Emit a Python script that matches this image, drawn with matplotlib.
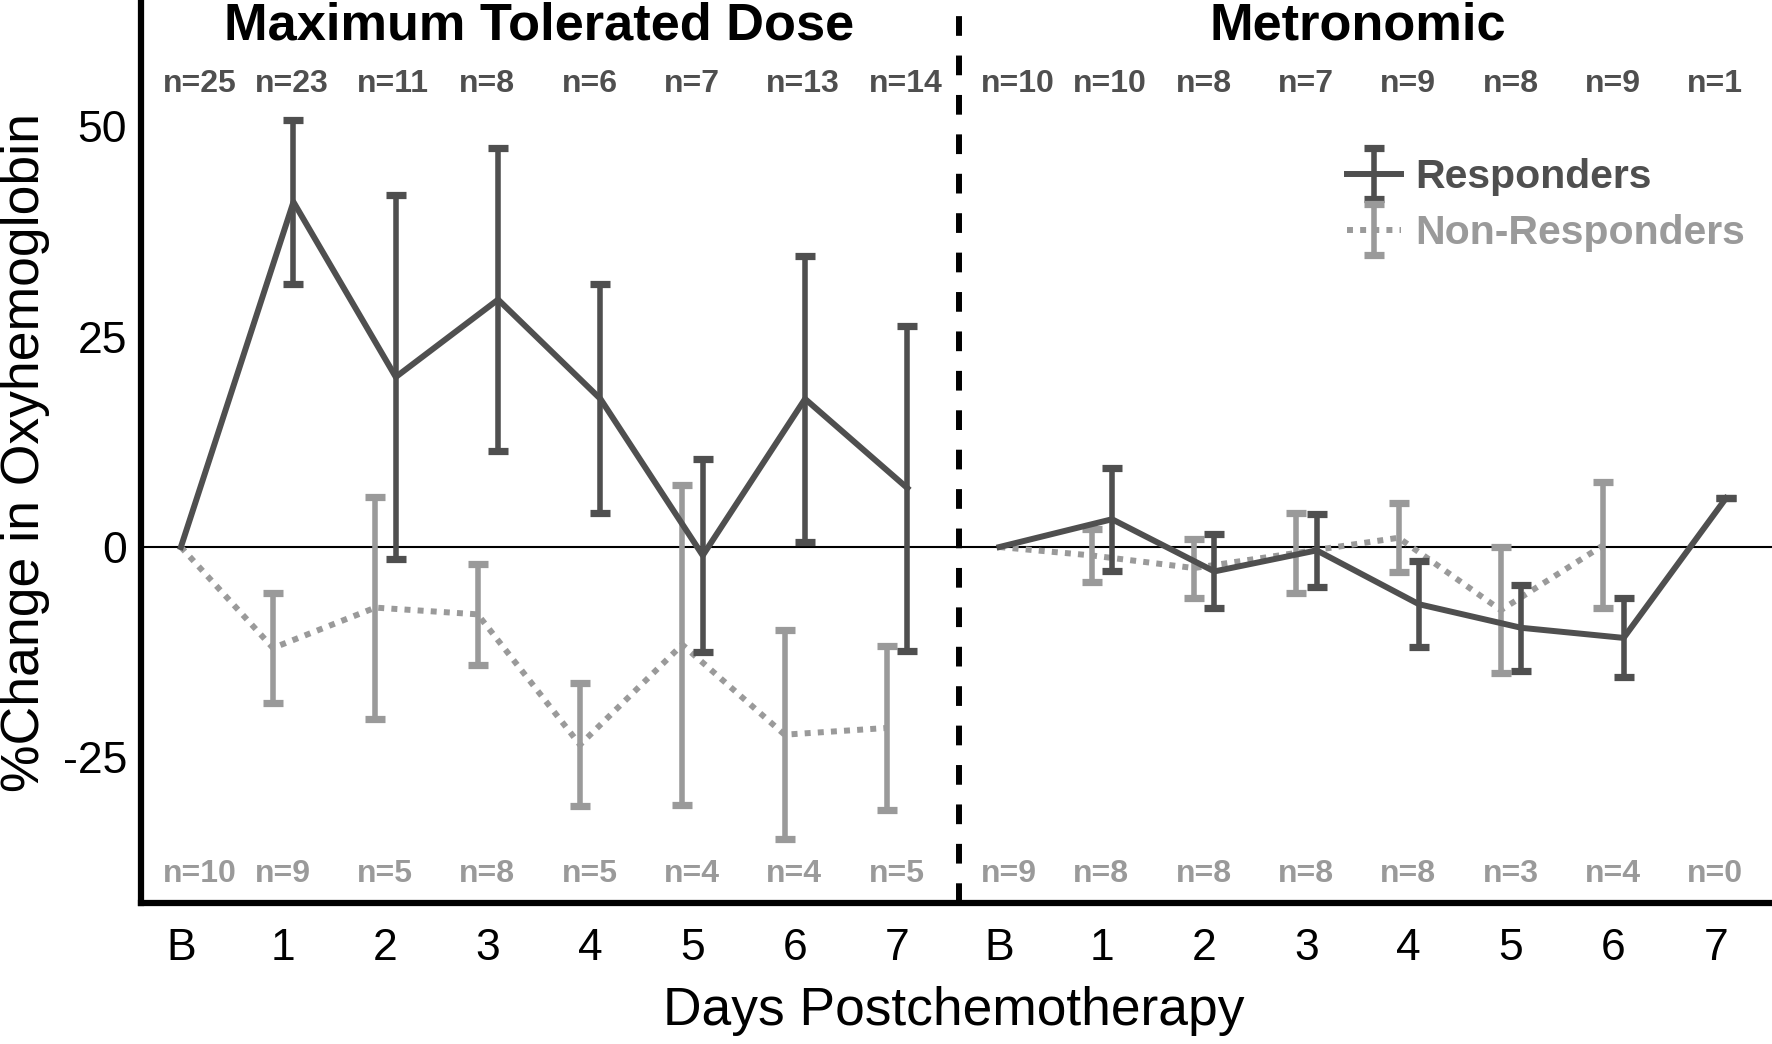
import matplotlib
matplotlib.use("Agg")
import matplotlib.pyplot as plt
from matplotlib.legend_handler import HandlerErrorbar
from matplotlib.container import ErrorbarContainer
import numpy as np

plt.rcParams['font.family'] = ['Liberation Sans', 'DejaVu Sans']

# ---------------- data ----------------
day_labels = ['B', '1', '2', '3', '4', '5', '6', '7']
group_titles = ['Maximum Tolerated Dose', 'Metronomic']

mtd_resp_mean = [0, 41.0, 20.2, 29.4, 17.6, -1.0, 17.6, 7.0]
mtd_resp_err = [0, 9.8, 21.6, 18.0, 13.6, 11.5, 17.0, 19.3]
mtd_non_mean = [0, -12.0, -7.2, -8.0, -23.5, -11.6, -22.3, -21.5]
mtd_non_err = [0, 6.5, 13.2, 6.0, 7.3, 19.0, 12.4, 9.7]

met_resp_mean = [0, 3.3, -2.9, -0.4, -6.8, -9.6, -10.8, 5.8]
met_resp_err = [0, 6.1, 4.4, 4.3, 5.1, 5.1, 4.7, 0]
met_non_mean = [0, -1.0, -2.5, -0.7, 1.1, -7.5, 0.2]
met_non_err = [0, 3.1, 3.5, 4.8, 4.1, 7.5, 7.5]

mtd_resp_n = [25, 23, 11, 8, 6, 7, 13, 14]
met_resp_n = [10, 10, 8, 7, 9, 8, 9, 1]
mtd_non_n = [10, 9, 5, 8, 5, 4, 4, 5]
met_non_n = [9, 8, 8, 8, 8, 3, 4, 0]

yticks = [-25, 0, 25, 50]

# ---------------- style ----------------
c_resp = '#4f4f4f'
c_non = '#9a9a9a'
W, H = 1772, 1044
fig = plt.figure(figsize=(W / 100, H / 100), dpi=100)
ax = fig.add_axes([141 / W, 1 - 903 / H, 1 - 141 / W, 903 / H])

ax.set_xlim(-0.39, 15.55)
ax.set_ylim(-42.3, 65.0)

dodge = 0.1
offset = {'mtd': 0, 'met': 8}
lw = 4.3
ekw = dict(elinewidth=4.0, capsize=7.2, capthick=5.2)


def xs(n, base, d):
    x = np.arange(n, dtype=float) + base
    x[1:] += d
    return x


# non-responders first (behind)
h_non = ax.errorbar(xs(len(mtd_non_mean), offset['mtd'], -dodge), mtd_non_mean,
                    yerr=mtd_non_err, errorevery=(1, 1), color=c_non, lw=lw,
                    linestyle=(0, (1.0, 1.2)), ecolor=c_non, **ekw, zorder=2)
ax.errorbar(xs(len(met_non_mean), offset['met'], -dodge), met_non_mean,
            yerr=met_non_err, errorevery=(1, 1), color=c_non, lw=lw,
            linestyle=(0, (1.0, 1.2)), ecolor=c_non, **ekw, zorder=2)
h_resp = ax.errorbar(xs(len(mtd_resp_mean), offset['mtd'], dodge), mtd_resp_mean,
                     yerr=mtd_resp_err, errorevery=(1, 1), color=c_resp, lw=lw,
                     ecolor=c_resp, **ekw, zorder=3)
ax.errorbar(xs(len(met_resp_mean), offset['met'], dodge), met_resp_mean,
            yerr=met_resp_err, errorevery=(1, 1), color=c_resp, lw=lw,
            ecolor=c_resp, **ekw, zorder=3)

# zero line and divider
ax.axhline(0, color='black', lw=1.5, zorder=1)
ax.axvline(7.6, color='black', lw=4.3, linestyle=(0, (3.3, 3.3)), zorder=1)

# spines
for s in ['top', 'right']:
    ax.spines[s].set_visible(False)
for s in ['left', 'bottom']:
    ax.spines[s].set_linewidth(4.5)
    ax.spines[s].set_color('black')

ax.set_xticks(list(range(8)) + list(range(8, 16)))
ax.set_xticklabels(day_labels * 2)
ax.set_yticks(yticks)
ax.set_yticklabels([str(v) for v in yticks])
ax.tick_params(axis='both', length=0, labelsize=32, colors='black')
ax.tick_params(axis='x', pad=18)
ax.tick_params(axis='y', pad=10)

# group titles
for xc, t in zip([3.5, 11.5], group_titles):
    ax.text(xc, 60.3, t, ha='center', va='baseline', fontsize=37.7,
            fontweight='bold', color='black')

# n labels
def n_positions(base):
    pos = [base - 0.18] + [base + i - 0.28 for i in range(1, 8)]
    return pos

for base, nr, nn in [(0, mtd_resp_n, mtd_non_n), (8, met_resp_n, met_non_n)]:
    for x, a, b in zip(n_positions(base), nr, nn):
        ax.text(x, 54.1, f'n={a}', ha='left', va='baseline', fontsize=23,
                fontweight='bold', color=c_resp)
        ax.text(x, -39.8, f'n={b}', ha='left', va='baseline', fontsize=23,
                fontweight='bold', color=c_non)

# axis labels
fig.text(25 / W, 1 - 452 / H, '%Change in Oxyhemoglobin', rotation=90,
         ha='center', va='center', fontsize=38.5)
fig.text(954 / W, 1 - 1025 / H, 'Days Postchemotherapy', ha='center',
         va='baseline', fontsize=38.4)

leg = ax.legend([h_resp, h_non], ['Responders', 'Non-Responders'],
                loc='upper left', bbox_to_anchor=(1347 / W, 1 - 158 / H),
                bbox_transform=fig.transFigure, frameon=False, borderpad=0,
                borderaxespad=0, handlelength=1.32, handletextpad=0.35,
                labelspacing=0.44, prop={'weight': 'bold', 'size': 29.5},
                handler_map={ErrorbarContainer: HandlerErrorbar(yerr_size=0.62)})
for txt, c in zip(leg.get_texts(), [c_resp, c_non]):
    txt.set_color(c)

fig.savefig('out.png', dpi=100)
